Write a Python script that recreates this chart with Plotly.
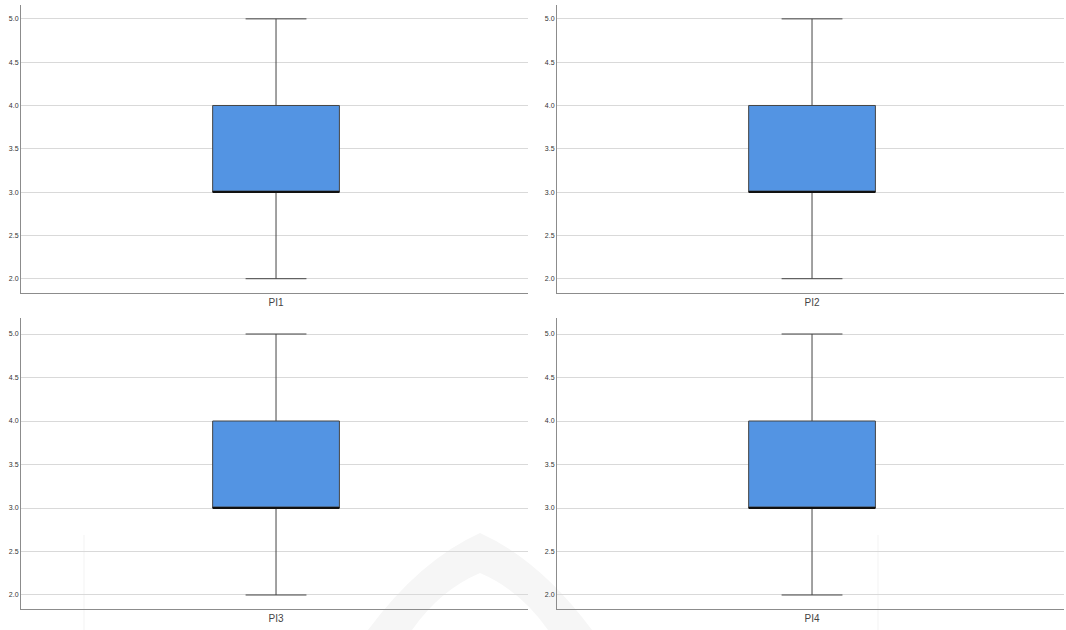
import plotly.graph_objects as go

# Five-number summaries for each item (Likert scale 1-5)
items = ["PI1", "PI2", "PI3", "PI4"]
mins = [2, 2, 2, 2]
q1s = [3, 3, 3, 3]
medians = [3, 3, 3, 3]
q3s = [4, 4, 4, 4]
maxs = [5, 5, 5, 5]
y_ticks = [2.0, 2.5, 3.0, 3.5, 4.0, 4.5, 5.0]

W, H = 1066, 630
BOX_W = 0.25
POS = 0.0
FILL = "#5394e3"

# panel placement in pixels: (left, right, top, bottom) and y range
panels = [
    (21, 528, 5, 293, [1.835, 5.16]),
    (557, 1064, 5, 293, [1.835, 5.16]),
    (21, 528, 318, 609, [1.839, 5.184]),
    (557, 1064, 318, 609, [1.839, 5.184]),
]

fig = go.Figure()
layout = {}
for i, name in enumerate(items):
    k = "" if i == 0 else str(i + 1)
    xa, ya = "x" + k, "y" + k
    l, r, t, b, yr = panels[i]
    fig.add_trace(go.Box(
        x=[POS], q1=[q1s[i]], median=[medians[i]], q3=[q3s[i]],
        lowerfence=[mins[i]], upperfence=[maxs[i]],
        width=BOX_W, whiskerwidth=0.48, boxpoints=False,
        fillcolor=FILL, line=dict(color="#444444", width=1),
        xaxis=xa, yaxis=ya, showlegend=False, hoverinfo="skip",
    ))
    # heavier median bar across the box
    fig.add_trace(go.Scatter(
        x=[POS - BOX_W / 2, POS + BOX_W / 2], y=[medians[i], medians[i]],
        mode="lines", line=dict(color="#111111", width=2),
        xaxis=xa, yaxis=ya, showlegend=False, hoverinfo="skip",
    ))
    layout["xaxis" + k] = dict(
        domain=[l / W, r / W], range=[-0.503, 0.497], anchor=ya,
        tickvals=[POS], ticktext=[name], showgrid=False, zeroline=False,
        showline=True, linecolor="#8c8c8c", linewidth=1, ticks="",
        tickfont=dict(family="Liberation Sans, Arial", size=10, color="#444444"),
        fixedrange=True,
    )
    layout["yaxis" + k] = dict(
        domain=[1 - b / H, 1 - t / H], range=yr, anchor=xa,
        tickvals=y_ticks, ticktext=[f"{v:.1f}" for v in y_ticks],
        showgrid=True, gridcolor="#d9d9d9", gridwidth=1, zeroline=False,
        showline=True, linecolor="#8c8c8c", linewidth=1, ticks="",
        tickfont=dict(family="Liberation Sans, Arial", size=7, color="#333333"),
        fixedrange=True,
    )

# faint background watermark
wm = "#f6f6f6"
shapes = [
    dict(type="path", xref="paper", yref="paper", layer="below",
         path=(f"M {368/W} {1-630/H} Q {420/W} {1-560/H} {480/W} {1-533/H} "
               f"Q {540/W} {1-560/H} {592/W} {1-630/H} "
               f"L {548/W} {1-630/H} Q {520/W} {1-590/H} {480/W} {1-573/H} "
               f"Q {440/W} {1-590/H} {412/W} {1-630/H} Z"),
         fillcolor=wm, line=dict(width=0)),
    dict(type="line", xref="paper", yref="paper", layer="below",
         x0=84 / W, x1=84 / W, y0=0, y1=1 - 535 / H,
         line=dict(color="#f3f3f3", width=1)),
    dict(type="line", xref="paper", yref="paper", layer="below",
         x0=878 / W, x1=878 / W, y0=0, y1=1 - 535 / H,
         line=dict(color="#f3f3f3", width=1)),
]

fig.update_layout(
    **layout,
    shapes=shapes,
    width=W, height=H,
    margin=dict(l=0, r=0, t=0, b=0),
    paper_bgcolor="white", plot_bgcolor="rgba(0,0,0,0)",
    showlegend=False,
)

fig.write_html("out.html", config={"displayModeBar": False})
